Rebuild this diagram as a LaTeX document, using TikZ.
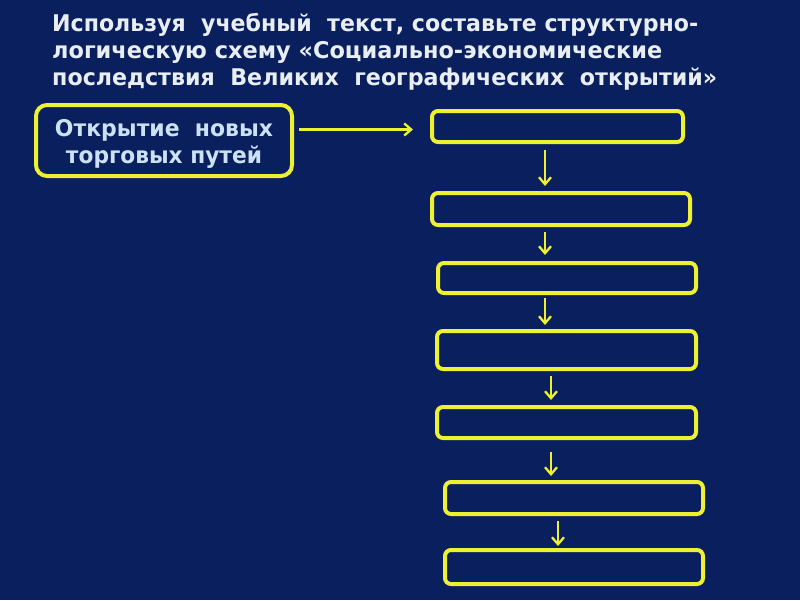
\documentclass[tikz,border=0pt]{standalone}
\usepackage{fontspec}
\setmainfont{DejaVu Sans}
\usetikzlibrary{arrows.meta,calc}
\definecolor{bg}{RGB}{10,31,94}
\definecolor{yel}{RGB}{238,240,50}
\definecolor{ttl}{RGB}{232,238,244}
\definecolor{lbl}{RGB}{205,225,245}
\begin{document}
\begin{tikzpicture}[x=1pt,y=-1pt,
  box/.style={draw=yel, line width=4pt, rounded corners=6pt, fill=bg, inner sep=0pt},
  leftbox/.style={draw=yel, line width=4pt, rounded corners=11pt, fill=bg, inner sep=0pt,
    minimum width=256pt, minimum height=71pt, text=lbl, align=center,
    font=\bfseries\fontsize{23}{27}\selectfont},
  arr/.style={draw=yel, line width=2.3pt, -{Straight Barb[length=7pt,width=12pt]}},
  ttlline/.style={anchor=base west, inner sep=0pt, text=ttl,
    font=\bfseries\fontsize{23}{26}\selectfont}]
\fill[bg] (0,0) rectangle (800,600);
\useasboundingbox (0,0) rectangle (800,600);
% title
\node[ttlline] (t1) at (52,31.5) {\resizebox{646pt}{\height}{Используя~ учебный~ текст, составьте структурно-}};
\node[ttlline] (t2) at (52,58) {\resizebox{610pt}{\height}{логическую схему «Социально-экономические}};
\node[ttlline] (t3) at (52,85) {\resizebox{665pt}{\height}{последствия~ Великих~ географических~ открытий»}};
% left box
\node[leftbox] (src) at (164,140.5) {\rule{0pt}{23.5pt}\resizebox{218pt}{\height}{Открытие~ новых}\\\resizebox{196pt}{\height}{торговых путей}};
% chain boxes
\node[box, minimum width=251pt, minimum height=31pt] (b1) at (557.5,126.5) {};
\node[box, minimum width=258pt, minimum height=32pt] (b2) at (561,209) {};
\node[box, minimum width=258pt, minimum height=30pt] (b3) at (567,278) {};
\node[box, minimum width=259pt, minimum height=38pt] (b4) at (566.5,350) {};
\node[box, minimum width=259pt, minimum height=31pt] (b5) at (566.5,422.5) {};
\node[box, minimum width=258pt, minimum height=32pt] (b6) at (574,498) {};
\node[box, minimum width=258pt, minimum height=34pt] (b7) at (574,567) {};
% arrow x positions
\coordinate (xa) at (545,0);
\coordinate (xb) at (551,0);
\coordinate (xc) at (558,0);
% horizontal arrow
\coordinate (hy) at ($(b1.west)+(0,3)$);
\draw[arr, shorten <=5pt, shorten >=17pt] (src.east |- hy) -- (hy);
% vertical arrows
\draw[arr, shorten <=6pt, shorten >=5pt] (b1.south -| xa) -- (b2.north -| xa);
\draw[arr, shorten <=5pt, shorten >=6pt] (b2.south -| xa) -- (b3.north -| xa);
\draw[arr, shorten <=3pt, shorten >=4pt] (b3.south -| xa) -- (b4.north -| xa);
\draw[arr, shorten <=5pt, shorten >=5pt] (b4.south -| xb) -- (b5.north -| xb);
\draw[arr, shorten <=12pt, shorten >=4pt] (b5.south -| xb) -- (b6.north -| xb);
\draw[arr, shorten <=5pt, shorten >=2pt] (b6.south -| xc) -- (b7.north -| xc);
\end{tikzpicture}
\end{document}
